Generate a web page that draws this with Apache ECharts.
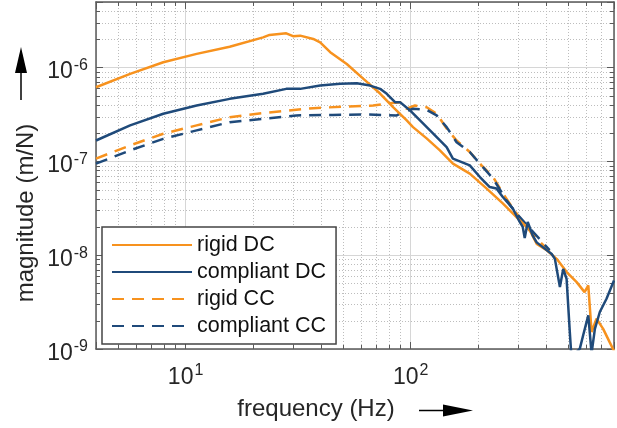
<!DOCTYPE html>
<html>
<head>
<meta charset="utf-8">
<script src="https://cdn.jsdelivr.net/npm/echarts@6/dist/echarts.min.js"></script>
<style>
html,body{margin:0;padding:0;background:#fff;}
#chart{width:617px;height:428px;}
</style>
</head>
<body>
<div id="chart"></div>
<script>
// ---- data ----
const seriesNames = ['rigid DC', 'compliant DC', 'rigid CC', 'compliant CC'];

const freqRigidDC = [4, 5.67, 7.96, 11.2, 15.7, 22.1, 23.6, 28.0, 30.0, 32.3, 36.9, 39.6, 43.9, 52.0, 61.5, 73.1, 83.5, 96.0, 102.4, 117.7, 134.8, 154, 183, 217, 256.5, 305, 338, 363, 402, 445, 493, 546, 592, 615, 636, 669, 716, 764, 800];
const magRigidDC = [6.17e-7, 8.57e-7, 1.14e-6, 1.40e-6, 1.67e-6, 2.10e-6, 2.23e-6, 2.32e-6, 2.16e-6, 2.19e-6, 2.02e-6, 1.86e-6, 1.46e-6, 1.09e-6, 7.63e-7, 5.29e-7, 3.79e-7, 2.73e-7, 2.32e-7, 1.76e-7, 1.31e-7, 9.45e-8, 7.40e-8, 5.16e-8, 3.57e-8, 2.35e-8, 1.85e-8, 1.32e-8, 1.13e-8, 9.14e-9, 6.6e-9, 5.16e-9, 4.04e-9, 4.76e-9, 1.52e-9, 2.1e-9, 1.64e-9, 1.19e-9, 9.5e-10];

const freqCompliantDC = [4, 5.67, 7.96, 11.2, 15.7, 22.1, 28.0, 32.3, 39.6, 48.6, 57.6, 66.0, 73.1, 78.3, 85.2, 89.7, 99.3, 110, 125.6, 144.4, 154, 183, 203, 224.5, 240.4, 256.5, 284, 305, 314.6, 321, 331, 348, 362.7, 423, 437, 460, 476, 492.6, 509, 518, 564, 584, 615, 636, 658, 692, 741, 800];
const magCompliantDC = [1.67e-7, 2.42e-7, 3.22e-7, 3.94e-7, 4.64e-7, 5.25e-7, 5.93e-7, 5.93e-7, 6.43e-7, 6.71e-7, 6.81e-7, 6.43e-7, 5.93e-7, 5.25e-7, 4.28e-7, 4.28e-7, 3.49e-7, 2.73e-7, 1.99e-7, 1.42e-7, 1.07e-7, 9.07e-8, 6.81e-8, 5.33e-8, 5.13e-8, 4.17e-8, 3.16e-8, 2.26e-8, 2.0e-8, 1.52e-8, 2.26e-8, 1.63e-8, 1.37e-8, 1.03e-8, 9.14e-9, 4.57e-9, 7.15e-9, 5.6e-9, 1.52e-9, 8e-10, 1.01e-9, 1.41e-9, 2.28e-9, 9e-10, 1.64e-9, 2.48e-9, 3.43e-9, 5.36e-9];

const freqRigidCC = [4, 5.67, 7.96, 11.2, 15.7, 22.1, 31.0, 36.9, 52.0, 68.1, 80.9, 89.7, 96.0, 104.5, 117.7, 130.4, 144.4, 159.9, 183, 206.4, 232.3, 257.3, 284.9, 326.6, 374, 414];
const magRigidCC = [1.07e-7, 1.48e-7, 1.97e-7, 2.42e-7, 2.96e-7, 3.27e-7, 3.55e-7, 3.69e-7, 3.85e-7, 3.94e-7, 4.17e-7, 4.28e-7, 3.64e-7, 3.94e-7, 3.78e-7, 3.22e-7, 2.24e-7, 1.67e-7, 1.26e-7, 9.07e-8, 6.81e-8, 4.53e-8, 3.14e-8, 2.0e-8, 1.4e-8, 1.1e-8];

const freqCompliantCC = [4, 5.67, 7.96, 11.2, 15.7, 22.1, 31.0, 45.0, 63.8, 86.7, 92.5, 102.7, 117.7, 130.4, 144.4, 159.9, 183, 203, 232.3, 266.3, 295, 338, 414];
const magCompliantCC = [9.45e-8, 1.31e-7, 1.74e-7, 2.14e-7, 2.62e-7, 2.84e-7, 3.09e-7, 3.13e-7, 3.16e-7, 3.09e-7, 3.35e-7, 3.64e-7, 3.55e-7, 3.09e-7, 2.32e-7, 1.60e-7, 1.26e-7, 9.45e-8, 6.55e-8, 3.85e-8, 2.78e-8, 1.94e-8, 1.13e-8];

const X_MIN = 4, X_MAX = 800;
const Y_MIN = 1e-9, Y_MAX = 5e-6;
const xMinorTicks = [5, 6, 7, 8, 9, 20, 30, 40, 50, 60, 70, 80, 90, 200, 300, 400, 500, 600, 700];
const yMinorTicks = [2e-9, 3e-9, 4e-9, 5e-9, 6e-9, 7e-9, 8e-9, 9e-9,
                     2e-8, 3e-8, 4e-8, 5e-8, 6e-8, 7e-8, 8e-8, 9e-8,
                     2e-7, 3e-7, 4e-7, 5e-7, 6e-7, 7e-7, 8e-7, 9e-7,
                     2e-6, 3e-6, 4e-6];

// ---- styling ----
const ORANGE = '#F7921E';
const BLUE = '#1F4A7A';
const FONT = "'Liberation Sans', Arial, Helvetica, sans-serif";
const AXIS_COLOR = '#5a5a5a';
const TEXT_COLOR = '#262626';

function pairs(xs, ys) { return xs.map((x, i) => [x, ys[i]]); }

function powLabel(v) {
  const e = Math.log10(v);
  const r = Math.round(e);
  if (Math.abs(e - r) > 1e-6) return '';
  return '{b|10}{s|' + r + '}';
}
const richLabel = {
  b: { fontSize: 23, fontFamily: FONT, color: TEXT_COLOR, padding: [9, 0, 0, 0] },
  s: { fontSize: 16, fontFamily: FONT, color: TEXT_COLOR, verticalAlign: 'top', padding: [6, 0, 0, 1] }
};

function minorX(params, api) {
  const cs = params.coordSys;
  const x = Math.round(api.coord([api.value(0), Y_MIN])[0]) + 0.5;
  return { type: 'group', children: [
    { type: 'line', shape: { x1: x, y1: cs.y, x2: x, y2: cs.y + cs.height }, style: { stroke: '#bdbdbd', lineWidth: 1, lineDash: [1, 2] } },
    { type: 'line', shape: { x1: x, y1: cs.y + cs.height, x2: x, y2: cs.y + cs.height - 4 }, style: { stroke: AXIS_COLOR, lineWidth: 1 } },
    { type: 'line', shape: { x1: x, y1: cs.y, x2: x, y2: cs.y + 4 }, style: { stroke: AXIS_COLOR, lineWidth: 1 } }
  ]};
}
function minorY(params, api) {
  const cs = params.coordSys;
  const y = Math.round(api.coord([X_MIN, api.value(1)])[1]) + 0.5;
  return { type: 'group', children: [
    { type: 'line', shape: { x1: cs.x, y1: y, x2: cs.x + cs.width, y2: y }, style: { stroke: '#bdbdbd', lineWidth: 1, lineDash: [1, 2] } },
    { type: 'line', shape: { x1: cs.x, y1: y, x2: cs.x + 4, y2: y }, style: { stroke: AXIS_COLOR, lineWidth: 1 } },
    { type: 'line', shape: { x1: cs.x + cs.width, y1: y, x2: cs.x + cs.width - 4, y2: y }, style: { stroke: AXIS_COLOR, lineWidth: 1 } }
  ]};
}

const chart = echarts.init(document.getElementById('chart'), null, { renderer: 'canvas' });

const axisCommon = {
  type: 'log', logBase: 10,
  axisLine: { show: true, lineStyle: { color: AXIS_COLOR, width: 1.5 } },
  axisTick: { show: true, inside: true, length: 7, lineStyle: { color: AXIS_COLOR, width: 1 } },
  minorTick: { show: false },
  minorSplitLine: { show: false }
};

const lineCommon = { symbol: 'none', showSymbol: false, smooth: false };

const option = {
  animation: false,
  backgroundColor: '#fff',
  textStyle: { fontFamily: FONT },
  grid: { left: 96, right: 3, top: 2, bottom: 79, containLabel: false },
  xAxis: [
    Object.assign({}, axisCommon, {
      min: X_MIN, max: X_MAX, position: 'bottom',
      axisLabel: { formatter: powLabel, rich: richLabel, margin: 8 },
      splitLine: { show: true, lineStyle: { color: '#d6d6d6', width: 1 } }
    }),
    Object.assign({}, axisCommon, {
      min: X_MIN, max: X_MAX, position: 'top',
      axisLabel: { show: false }, splitLine: { show: false }
    })
  ],
  yAxis: [
    Object.assign({}, axisCommon, {
      min: Y_MIN, max: Y_MAX, position: 'left',
      axisLabel: { formatter: powLabel, rich: richLabel, margin: 8 },
      splitLine: { show: true, lineStyle: { color: '#d6d6d6', width: 1 } }
    }),
    Object.assign({}, axisCommon, {
      min: Y_MIN, max: Y_MAX, position: 'right',
      axisLabel: { show: false }, splitLine: { show: false }
    })
  ],
  legend: {
    orient: 'vertical',
    left: 102, top: 227,
    data: seriesNames,
    itemWidth: 80, itemHeight: 14, itemGap: 5,
    padding: [7, 10, 7, 9],
    borderColor: '#444', borderWidth: 1.5, borderRadius: 0,
    backgroundColor: '#fff',
    itemStyle: { opacity: 0 },
    textStyle: { fontSize: 21.5, color: '#111', fontFamily: FONT },
    selectedMode: false
  },
  graphic: [
    { type: 'text', x: 26, y: 213, rotation: Math.PI / 2,
      style: { text: 'magnitude (m/N)', font: "24px 'Liberation Sans', Arial, sans-serif", fill: TEXT_COLOR, align: 'center', verticalAlign: 'middle' } },
    { type: 'text', x: 316, y: 409,
      style: { text: 'frequency (Hz)', font: "24px 'Liberation Sans', Arial, sans-serif", fill: TEXT_COLOR, align: 'center', verticalAlign: 'middle' } },
    { type: 'line', shape: { x1: 21, y1: 100, x2: 21, y2: 70 }, style: { stroke: '#000', lineWidth: 1.5 } },
    { type: 'polygon', shape: { points: [[15, 73], [27, 73], [21, 47]] }, style: { fill: '#000' } },
    { type: 'line', shape: { x1: 419, y1: 410.5, x2: 446, y2: 410.5 }, style: { stroke: '#000', lineWidth: 1.5 } },
    { type: 'polygon', shape: { points: [[443, 404.5], [443, 416.5], [473, 410.5]] }, style: { fill: '#000' } }
  ],
  series: [
    { type: 'custom', name: 'xminor', renderItem: minorX, data: xMinorTicks.map(v => [v, Y_MIN]), encode: { x: 0, y: 1 }, z: 1, silent: true, clip: false },
    { type: 'custom', name: 'yminor', renderItem: minorY, data: yMinorTicks.map(v => [X_MIN, v]), encode: { x: 0, y: 1 }, z: 1, silent: true, clip: false },
    Object.assign({ type: 'line', name: 'rigid CC', data: pairs(freqRigidCC, magRigidCC), z: 3,
      lineStyle: { color: ORANGE, width: 2.5, type: [12, 8] }, itemStyle: { color: ORANGE } }, lineCommon),
    Object.assign({ type: 'line', name: 'compliant CC', data: pairs(freqCompliantCC, magCompliantCC), z: 3,
      lineStyle: { color: BLUE, width: 2.5, type: [12, 8] }, itemStyle: { color: BLUE } }, lineCommon),
    Object.assign({ type: 'line', name: 'rigid DC', data: pairs(freqRigidDC, magRigidDC), z: 4,
      lineStyle: { color: ORANGE, width: 2.5 }, itemStyle: { color: ORANGE } }, lineCommon),
    Object.assign({ type: 'line', name: 'compliant DC', data: pairs(freqCompliantDC, magCompliantDC), z: 4,
      lineStyle: { color: BLUE, width: 2.5 }, itemStyle: { color: BLUE } }, lineCommon)
  ]
};
chart.setOption(option);
</script>
</body>
</html>
